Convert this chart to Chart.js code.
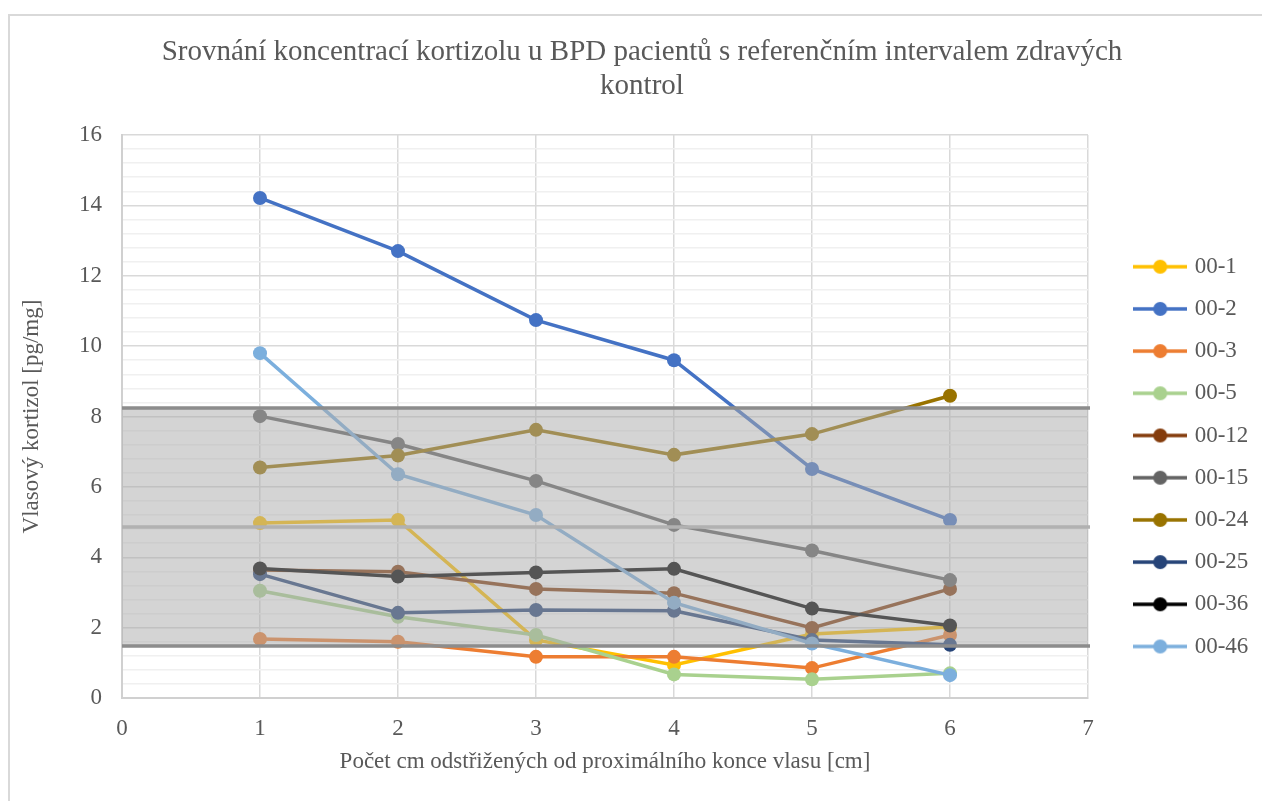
<!DOCTYPE html>
<html>
<head>
<meta charset="utf-8">
<script src="https://cdn.jsdelivr.net/npm/chart.js@4/dist/chart.umd.min.js"></script>
<style>
	html, body { margin: 0; padding: 0; background: #fff; overflow: hidden; }
	#frame { position: absolute; left: 8px; top: 14px; width: 1300px; height: 900px; border: 2px solid #d9d9d9; }
	#chart { position: absolute; left: 0; top: 0; }
</style>
</head>
<body>
<div id="frame"></div>
<canvas id="chart" width="1262" height="801"></canvas>
<script>
// data
const positions = [1, 2, 3, 4, 5, 6];
const patients = ['00-1', '00-2', '00-3', '00-5', '00-12', '00-15', '00-24', '00-25', '00-36', '00-46'];
const colors = ['#FFC000', '#4472C4', '#ED7D31', '#A9D18E', '#843C0C', '#636363', '#997300', '#264478', '#000000', '#7CAFDD'];

const p00_1 = [4.97, 5.06, 1.65, 0.94, 1.82, 2.02];
const p00_2 = [14.21, 12.70, 10.74, 9.60, 6.51, 5.06];
const p00_3 = [1.68, 1.60, 1.17, 1.17, 0.85, 1.79];
const p00_5 = [3.05, 2.31, 1.79, 0.67, 0.53, 0.70];
const p00_12 = [3.64, 3.59, 3.10, 2.98, 1.99, 3.10];
const p00_15 = [8.01, 7.22, 6.17, 4.92, 4.19, 3.35];
const p00_24 = [6.55, 6.89, 7.62, 6.91, 7.50, 8.59];
const p00_25 = [3.52, 2.42, 2.50, 2.48, 1.65, 1.51];
const p00_36 = [3.68, 3.45, 3.57, 3.67, 2.54, 2.06];
const p00_46 = [9.80, 6.36, 5.20, 2.71, 1.55, 0.65];
const series = [p00_1, p00_2, p00_3, p00_5, p00_12, p00_15, p00_24, p00_25, p00_36, p00_46];

// reference interval of healthy controls: low, middle, high
const referenceInterval = [1.48, 4.86, 8.24];

const serif = "'Liberation Serif', 'Times New Roman', serif";
const textColor = '#595959';

// legend icon: short line with a dot in the middle
function legendIcon(color) {
	const c = document.createElement('canvas');
	c.width = 54;
	c.height = 16;
	const g = c.getContext('2d');
	g.strokeStyle = color;
	g.lineWidth = 3.5;
	g.beginPath();
	g.moveTo(0, 8);
	g.lineTo(54, 8);
	g.stroke();
	g.fillStyle = color;
	g.beginPath();
	g.arc(27, 8, 7, 0, Math.PI * 2);
	g.fill();
	return c;
}

const isMajor = (v) => Math.abs(v / 2 - Math.round(v / 2)) < 1e-6;

// grey band drawn over the lines, like in the original
const bandPlugin = {
	id: 'band',
	afterInit(chart) {
		const fit = chart.legend.fit;
		chart.legend.fit = function () {
			fit.call(this);
			this.width = 174;
		};
	},
	afterLayout(chart) {
		const lg = chart.legend;
		const h = lg.bottom - lg.top;
		lg.top = 236;
		lg.bottom = lg.top + h;
		lg.left = 1118;
		lg.right = lg.left + 174;
		const t = chart.titleBlock;
		t.left += 11;
		t.right += 11;
	},
	afterDatasetsDraw(chart) {
		const { ctx, chartArea, scales } = chart;
		const y = scales.y;
		const lo = y.getPixelForValue(referenceInterval[0]);
		const mid = y.getPixelForValue(referenceInterval[1]);
		const hi = y.getPixelForValue(referenceInterval[2]);
		ctx.save();
		ctx.fillStyle = 'rgba(169,169,169,0.5)';
		ctx.fillRect(chartArea.left, hi, chartArea.right - chartArea.left, lo - hi);
		ctx.lineWidth = 3.5;
		ctx.strokeStyle = '#8c8c8c';
		ctx.beginPath();
		ctx.moveTo(chartArea.left, hi);
		ctx.lineTo(chartArea.right + 2, hi);
		ctx.moveTo(chartArea.left, lo);
		ctx.lineTo(chartArea.right + 2, lo);
		ctx.stroke();
		ctx.strokeStyle = '#b1b1b1';
		ctx.beginPath();
		ctx.moveTo(chartArea.left, mid);
		ctx.lineTo(chartArea.right + 2, mid);
		ctx.stroke();
		ctx.restore();
	},
};

const datasets = patients.map((name, i) => ({
	label: name,
	data: positions.map((x, j) => ({ x: x, y: series[i][j] })),
	borderColor: colors[i],
	backgroundColor: colors[i],
	pointBackgroundColor: colors[i],
	pointBorderColor: colors[i],
	borderWidth: 3.5,
	pointRadius: 7,
	pointBorderWidth: 0,
	pointHoverRadius: 7,
	order: -i,
}));

new Chart(document.querySelector('#chart').getContext('2d'), {
	type: 'line',
	data: { datasets: datasets },
	plugins: [bandPlugin],
	options: {
		responsive: false,
		animation: false,
		events: [],
		layout: { padding: 0 },
		plugins: {
			title: {
				display: true,
				text: ['Srovnání koncentrací kortizolu u BPD pacientů s referenčním intervalem zdravých', 'kontrol'],
				color: textColor,
				font: { family: serif, size: 29, weight: 'normal', lineHeight: 34 / 29 },
				padding: { top: 35, bottom: 32 },
			},
			legend: {
				position: 'right',
				align: 'start',
				labels: {
					usePointStyle: true,
					pointStyleWidth: 46,
					padding: 19.2,
					color: textColor,
					font: { family: serif, size: 23 },
					generateLabels: (chart) => chart.data.datasets.map((ds, i) => ({
						text: ds.label,
						pointStyle: legendIcon(ds.borderColor),
						fillStyle: ds.borderColor,
						strokeStyle: ds.borderColor,
						lineWidth: 0,
						fontColor: textColor,
						hidden: false,
						datasetIndex: i,
					})),
				},
			},
			tooltip: { enabled: false },
		},
		scales: {
			x: {
				type: 'linear',
				min: 0,
				max: 7,
				ticks: { stepSize: 1, padding: 17, color: textColor, font: { family: serif, size: 23 } },
				grid: { color: '#d9d9d9', lineWidth: 1.5, drawTicks: false },
				border: { color: '#d0d0d0', width: 2 },
				title: {
					display: true,
					text: 'Počet cm odstřižených od proximálního konce vlasu [cm]',
					color: textColor,
					font: { family: serif, size: 23 },
					padding: { top: 0, bottom: 25 },
				},
				afterFit: (scale) => { scale.height = 103; },
			},
			y: {
				min: 0,
				max: 16,
				ticks: {
					stepSize: 0.4,
					autoSkip: false,
					padding: 20,
					color: textColor,
					font: { family: serif, size: 23 },
					callback: (v) => (isMajor(v) ? String(Math.round(v)) : ''),
				},
				grid: {
					drawTicks: false,
					lineWidth: 1.5,
					color: (ctx) => (ctx.tick && isMajor(ctx.tick.value) ? '#d9d9d9' : '#f0f0f0'),
				},
				border: { color: '#d0d0d0', width: 2 },
				title: {
					display: true,
					text: 'Vlasový kortizol [pg/mg]',
					color: textColor,
					font: { family: serif, size: 23 },
					padding: { top: 18, bottom: 0 },
				},
				afterFit: (scale) => { scale.width = 122; },
			},
		},
	},
});
</script>
</body>
</html>
